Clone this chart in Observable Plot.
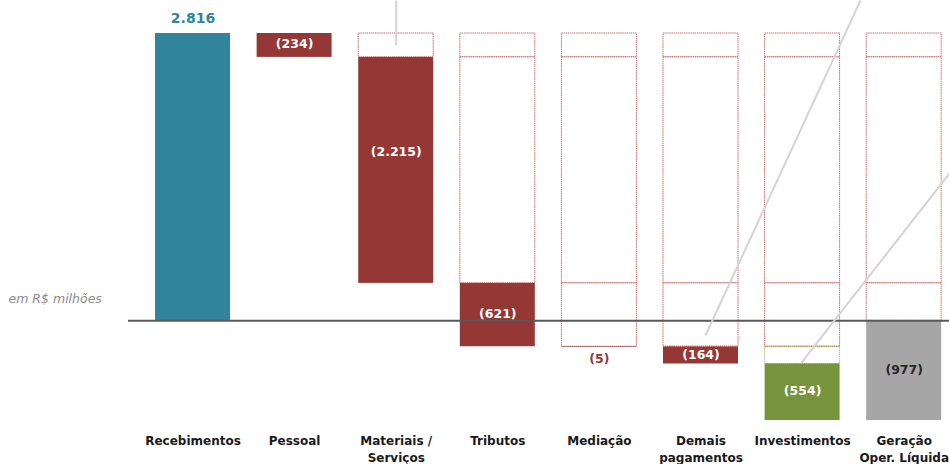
<!DOCTYPE html>
<html>
<head>
<meta charset="utf-8">
<script src="https://cdn.jsdelivr.net/npm/d3@7"></script>
<script src="https://cdn.jsdelivr.net/npm/@observablehq/plot@0.6"></script>
<style>
  html, body { margin: 0; padding: 0; background: #fff; overflow: hidden; }
  #chart svg { overflow: visible; }
</style>
</head>
<body>
<div id="chart"></div>
<script>
// ---- data ----
const categories = ["Recebimentos", "Pessoal", "Materiais /\nServiços", "Tributos", "Mediação", "Demais\npagamentos", "Investimentos", "Geração\nOper. Líquida"];
const values = [2816, -234, -2215, -621, -5, -164, -554, -977];
const kinds = ["in", "out", "out", "out", "out", "out", "invest", "total"];
// leader lines from call-outs outside the picture: [x index, value] pairs
const leaderStart = [[2, 3139], [6.57, 3139], [7.446, 1444]];
const leaderEnd = [[2, 2698], [5.044, -144], [5.989, -409]];

// ---- styling ----
const colors = {in: "#31849b", out: "#953735", invest: "#77933c", total: "#a6a6a6"};
const ghostColors = {out: "#c0504d", invest: "#9bbb59"};
const half = 0.369;
const fmt = n => {
  const s = String(Math.abs(n)).replace(/\B(?=(\d{3})+(?!\d))/g, ".");
  return n < 0 ? `(${s})` : s;
};

// ---- derived tables ----
const bars = [];
let level = 0;
values.forEach((v, i) => {
  let y1, y2;
  if (kinds[i] === "total") { y1 = 0; y2 = v; }
  else { y1 = level; y2 = level + v; level = y2; }
  bars.push({i, y1, y2, value: v, kind: kinds[i], mid: (y1 + y2) / 2});
});

const ghosts = [];
bars.forEach((b, i) => {
  if (i < 2) return;
  for (let j = 1; j < i; j++) {
    let top = bars[j].y1, bot = bars[j].y2;
    if (b.kind === "total") { top = Math.max(top, 0); bot = Math.max(bot, 0); }
    if (top - bot <= 0) continue;
    const adjKind = (j === i - 1 && b.kind === "invest") ? "invest" : "out";
    ghosts.push({i, y1: top, y2: bot, stroke: ghostColors[adjKind]});
  }
});

const leaders = leaderStart.map((s, k) => ({x1: s[0], y1: s[1], x2: leaderEnd[k][0], y2: leaderEnd[k][1]}));

const inside = bars.filter(b => b.kind !== "in" && Math.abs(b.y2 - b.y1) > 50);
const small = bars.filter(b => b.kind === "out" && Math.abs(b.y2 - b.y1) <= 50);

const chart = Plot.plot({
  width: 949,
  height: 464,
  marginLeft: 128,
  marginRight: 0,
  marginTop: 33,
  marginBottom: 44,
  style: {fontFamily: "DejaVu Sans", background: "#fff"},
  x: {domain: [-0.635, 7.446], axis: null},
  y: {domain: [-977, 2816], axis: null},
  marks: [
    // ghost outlines
    Plot.rect(ghosts, {
      x1: d => d.i - half, x2: d => d.i + half, y1: "y1", y2: "y2",
      fill: "#fff", stroke: d => d.stroke, strokeOpacity: 0.8, strokeWidth: 1, strokeDasharray: "1.5,0.6"
    }),
    // bars
    Plot.rect(bars, {
      x1: d => d.i - half, x2: d => d.i + half, y1: "y1", y2: "y2",
      fill: d => colors[d.kind]
    }),
    Plot.ruleY([0], {stroke: "#595959", strokeWidth: 2}),
    Plot.link(leaders, {x1: "x1", y1: "y1", x2: "x2", y2: "y2", stroke: "#d4d4d4", strokeWidth: 2}),
    // labels
    Plot.text(bars.filter(b => b.kind === "in"), {
      x: "i", y: "y2", text: d => fmt(d.value), dy: -15,
      fill: colors.in, fontSize: 14, fontWeight: "bold"
    }),
    Plot.text(inside.filter(b => b.i !== 2), {
      x: "i", y: "mid", text: d => fmt(d.value), dy: -1,
      fill: d => d.kind === "total" ? "#262626" : "#fff", fontSize: 12.5, fontWeight: "bold"
    }),
    Plot.text(inside.filter(b => b.i === 2), {
      x: "i", y: "mid", text: d => fmt(d.value), dy: -18,
      fill: "#fff", fontSize: 12.5, fontWeight: "bold"
    }),
    Plot.text(small.filter(b => b.i === 5), {
      x: "i", y: "mid", text: d => fmt(d.value), dy: -1,
      fill: "#fff", fontSize: 12.5, fontWeight: "bold"
    }),
    Plot.text(small.filter(b => b.i === 4), {
      x: "i", y: "y2", text: d => fmt(d.value), dy: 12,
      fill: colors.out, fontSize: 12.5, fontWeight: "bold"
    }),
    Plot.text(["em R$ milhões"], {
      frameAnchor: "left", y: 216, dx: -120, textAnchor: "start",
      fill: "#8c8c8c", fontSize: 12.5, fontStyle: "italic"
    }),
    Plot.axisX({
      ticks: d3.range(categories.length), tickFormat: i => categories[i],
      tickSize: 0, tickPadding: 13, fontSize: 12, fontWeight: "bold",
      fill: "#1a1a1a", lineHeight: 1.4, label: null
    })
  ]
});
document.getElementById("chart").appendChild(chart);
</script>
</body>
</html>
